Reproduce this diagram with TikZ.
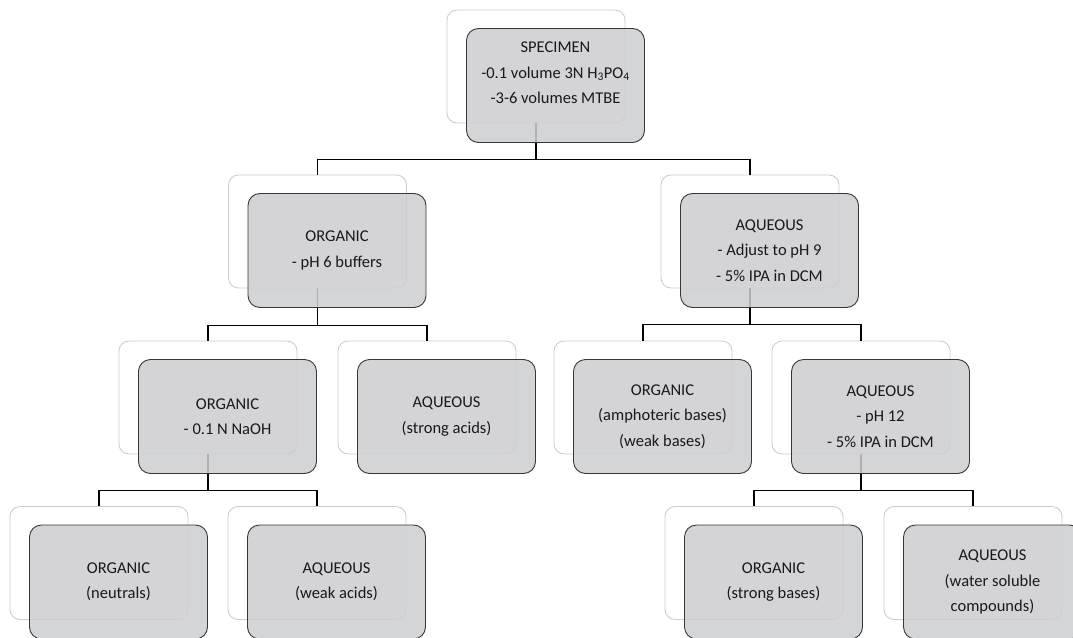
\documentclass[tikz,border=0pt]{standalone}
\usepackage{fontspec}
\setmainfont{Carlito}
\usetikzlibrary{positioning}

\definecolor{boxgray}{RGB}{205,206,209}
\definecolor{backline}{RGB}{205,205,205}
\definecolor{frontline}{RGB}{55,55,55}
\definecolor{txtgray}{RGB}{25,25,25}

\tikzset{
	backbox/.style={draw=backline, fill=white, rounded corners=10pt, line width=0.9pt,
		minimum width=178pt, minimum height=113pt, inner sep=0pt},
	frontbox/.style={draw=frontline, fill=boxgray, fill opacity=0.86, text opacity=1,
		rounded corners=12pt, line width=0.9pt, minimum width=178pt, minimum height=114pt,
		inner sep=0pt, align=center, text=txtgray, font=\fontsize{16.5}{25.5}\selectfont},
	link/.style={line width=1.7pt, black},
}

\begin{document}
\begin{tikzpicture}[x=1pt,y=-1pt]

\clip (0,0) rectangle (1073,637);

% back boxes
\begin{scope}
	\node[backbox] (spec) at (536,66.5) {};
	\node[backbox] (org1) at (317.5,231.5) {};
	\node[backbox] (aq1) at (750,231.5) {};
	%
	\node[backbox] (org2) at (208,397.5) {};
	\node[backbox] (aq2) at (427,397.5) {};
	\node[backbox] (org3) at (643,397.5) {};
	\node[backbox] (aq3) at (861,397.5) {};
	%
	\node[backbox] (org4) at (99,563) {};
	\node[backbox] (aq4) at (317,563) {};
	\node[backbox] (org5) at (754,563) {};
	\node[backbox] (aq5) at (973,563) {};
\end{scope}

\draw[link] (spec.south) -- ++(0,36) coordinate (bar1);
\draw[link] (org1.north) |- (bar1) -| (aq1.north);
\draw[link] (org1.south) -- ++(0,37) coordinate (bar2);
\draw[link] (org2.north) |- (bar2) -| (aq2.north);
\draw[link] (aq1.south) -- ++(0,36) coordinate (bar3);
\draw[link] (org3.north) |- (bar3) -| (aq3.north);
\draw[link] (org2.south) -- ++(0,36) coordinate (bar4);
\draw[link] (org4.north) |- (bar4) -| (aq4.north);
\draw[link] (aq3.south) -- ++(0,36) coordinate (bar5);
\draw[link] (org5.north) |- (bar5) -| (aq5.north);

% front boxes
\node[frontbox] (spec-f) at ([xshift=19.5pt,yshift=-19pt]spec) {SPECIMEN\\-0.1 volume 3N H\textsubscript{3}PO\textsubscript{4}\\-3-6 volumes MTBE\\~};
\node[frontbox] (org1-f) at ([xshift=19.5pt,yshift=-19pt]org1) {ORGANIC\\- pH 6 buffers};
\node[frontbox] (aq1-f) at ([xshift=19.5pt,yshift=-19pt]aq1) {AQUEOUS\\- Adjust to pH 9\\- 5\% IPA in DCM};
\node[frontbox] (org2-f) at ([xshift=19.5pt,yshift=-19pt]org2) {ORGANIC\\- 0.1 N NaOH};
\node[frontbox] (aq2-f) at ([xshift=19.5pt,yshift=-19pt]aq2) {AQUEOUS\\(strong acids)};
\node[frontbox] (org3-f) at ([xshift=19.5pt,yshift=-19pt]org3) {ORGANIC\\(amphoteric bases)\\(weak bases)};
\node[frontbox] (aq3-f) at ([xshift=19.5pt,yshift=-19pt]aq3) {AQUEOUS\\- pH 12\\- 5\% IPA in DCM};
\node[frontbox] (org4-f) at ([xshift=19.5pt,yshift=-19pt]org4) {ORGANIC\\(neutrals)};
\node[frontbox] (aq4-f) at ([xshift=19.5pt,yshift=-19pt]aq4) {AQUEOUS\\(weak acids)};
\node[frontbox] (org5-f) at ([xshift=19.5pt,yshift=-19pt]org5) {ORGANIC\\(strong bases)};
\node[frontbox] (aq5-f) at ([xshift=19.5pt,yshift=-19pt]aq5) {AQUEOUS\\(water soluble\\compounds)};

\end{tikzpicture}
\end{document}
